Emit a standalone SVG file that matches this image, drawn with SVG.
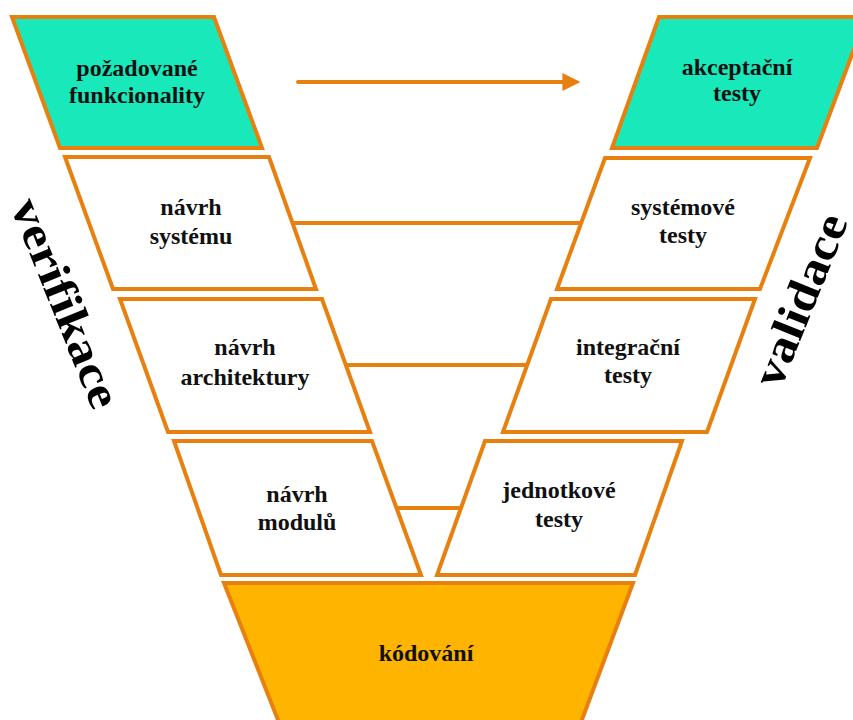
<svg xmlns="http://www.w3.org/2000/svg" width="853" height="720" viewBox="0 0 853 720">
<defs>
<style>
.box{stroke:#E8800F;stroke-width:4;stroke-linejoin:miter;fill:#ffffff}
.teal{fill:#19E8BA}
.gold{fill:#FFB400}
.con{stroke:#E8800F;stroke-width:4;fill:none}
.t{font-family:"Liberation Serif","Times New Roman",serif;font-weight:bold;font-size:24px;fill:#111;text-anchor:middle}
.big{font-family:"Liberation Serif","Times New Roman",serif;font-weight:bold;font-size:46px;fill:#000;text-anchor:middle;dominant-baseline:central}
</style>
<marker id="ah" viewBox="0 0 10 10" refX="2" refY="5" markerWidth="4.5" markerHeight="4.5" markerUnits="strokeWidth" orient="auto">
<path d="M0,0 L10,5 L0,10 Z" fill="#E8800F"/>
</marker>
</defs>
<rect width="853" height="720" fill="#ffffff"/>
<g id="connectors">
<line class="con" x1="298" y1="82" x2="566" y2="82" stroke-linecap="round" marker-end="url(#ah)"/>
<line class="con" x1="285" y1="223" x2="590" y2="223"/>
<line class="con" x1="340" y1="365" x2="535" y2="365"/>
<line class="con" x1="395" y1="508" x2="470" y2="508"/>
</g>
<g id="pozadovane-funkcionality">
<polygon class="box teal" points="12,17 214,17 262,148 60,148"/>
<text class="t" x="137" y="76">požadované</text>
<text class="t" x="137" y="103">funkcionality</text>
</g>
<g id="navrh-systemu">
<polygon class="box" points="65,157 269,157 316,289 113,289"/>
<text class="t" x="191" y="215">návrh</text>
<text class="t" x="191" y="244">systému</text>
</g>
<g id="navrh-architektury">
<polygon class="box" points="120,299 322,299 370,432 168,432"/>
<text class="t" x="245" y="355">návrh</text>
<text class="t" x="245" y="385">architektury</text>
</g>
<g id="navrh-modulu">
<polygon class="box" points="174,441 372,441 421,575 221,575"/>
<text class="t" x="297" y="502">návrh</text>
<text class="t" x="297" y="530">modulů</text>
</g>
<g id="akceptacni-testy">
<polygon class="box teal" points="659,17 866,17 817,148 612,148"/>
<text class="t" x="737" y="75">akceptační</text>
<text class="t" x="737" y="101">testy</text>
</g>
<g id="systemove-testy">
<polygon class="box" points="605,158 810,158 760,289 557,289"/>
<text class="t" x="683" y="215">systémové</text>
<text class="t" x="683" y="243">testy</text>
</g>
<g id="integracni-testy">
<polygon class="box" points="551,299 755,299 707,432 503,432"/>
<text class="t" x="628" y="355">integrační</text>
<text class="t" x="628" y="383">testy</text>
</g>
<g id="jednotkove-testy">
<polygon class="box" points="485,441 682,441 635,575 437,575"/>
<text class="t" x="559" y="498">jednotkové</text>
<text class="t" x="559" y="527">testy</text>
</g>
<g id="kodovani">
<polygon class="box gold" points="224,583 633,583 580,725 280,725"/>
<text class="t" x="426" y="661">kódování</text>
</g>
<g id="verifikace">
<text class="big" transform="translate(66,303) rotate(68)" textLength="222" lengthAdjust="spacingAndGlyphs">verifikace</text>
</g>
<g id="validace">
<text class="big" transform="translate(800,300) rotate(-68)" textLength="182" lengthAdjust="spacingAndGlyphs">validace</text>
</g>
</svg>
